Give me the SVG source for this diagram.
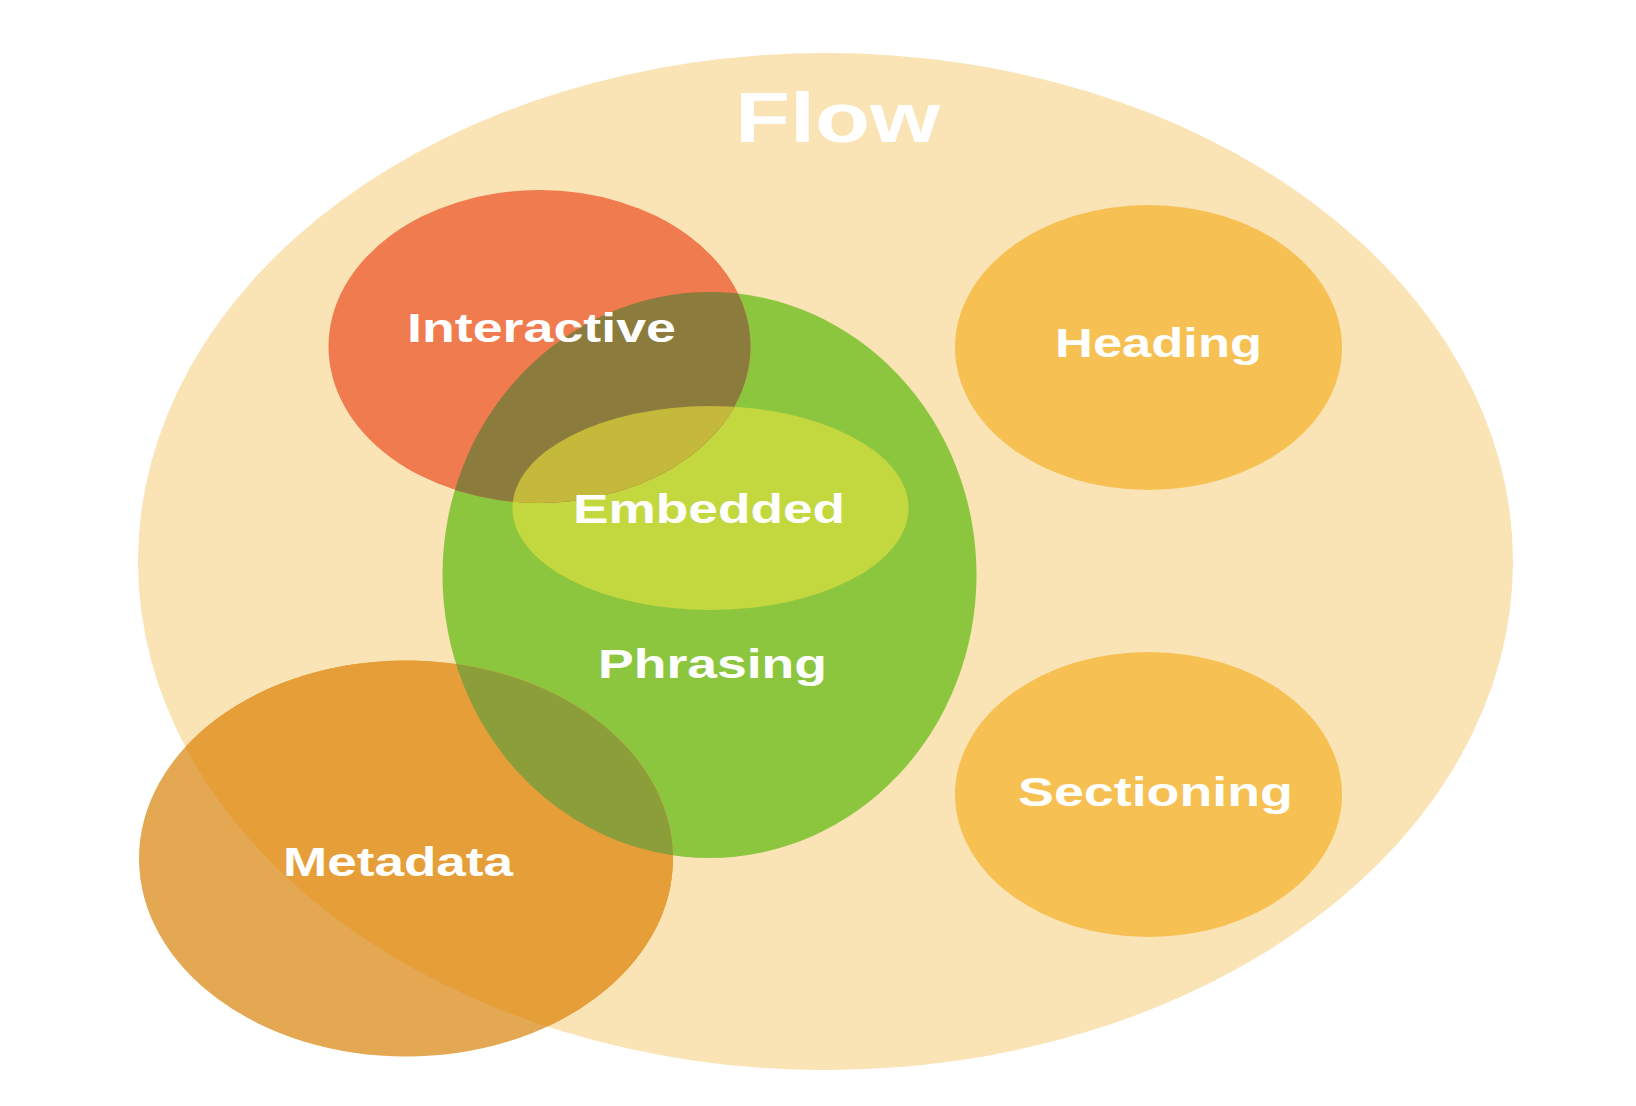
<svg xmlns="http://www.w3.org/2000/svg" width="1636" height="1106" viewBox="0 0 1636 1106">
<style>
.lbl{font-family:"Liberation Sans",Arial,sans-serif;font-weight:bold;fill:#ffffff;text-anchor:middle;font-size:41px}
.big{font-size:70px}
</style>
<defs>
<clipPath id="cFlow"><ellipse cx="825.5" cy="561.5" rx="687.5" ry="508.5"/></clipPath>
<clipPath id="cPhr"><ellipse cx="709.5" cy="575" rx="267" ry="283"/></clipPath>
<clipPath id="cEmb"><ellipse cx="710.5" cy="508" rx="198" ry="102"/></clipPath>
</defs>
<rect width="1636" height="1106" fill="#ffffff"/>
<g id="flow">
<ellipse cx="825.5" cy="561.5" rx="687.5" ry="508.5" fill="#FAE3B4"/>
<text class="lbl big" x="837.5" y="142" textLength="205" lengthAdjust="spacingAndGlyphs">Flow</text>
</g>
<g id="heading">
<ellipse cx="1148.5" cy="347.5" rx="193.5" ry="142.5" fill="#F6C152"/>
<text class="lbl" x="1158.5" y="357" textLength="207" lengthAdjust="spacingAndGlyphs">Heading</text>
</g>
<g id="sectioning">
<ellipse cx="1148.5" cy="794.5" rx="193.5" ry="142.5" fill="#F6C152"/>
<text class="lbl" x="1155.5" y="806" textLength="275" lengthAdjust="spacingAndGlyphs">Sectioning</text>
</g>
<g id="phrasing">
<ellipse cx="709.5" cy="575" rx="267" ry="283" fill="#8CC63F"/>
</g>
<g id="embedded">
<ellipse cx="710.5" cy="508" rx="198" ry="102" fill="#C2D83E"/>
</g>
<g id="interactive">
<ellipse cx="539.5" cy="346.5" rx="211" ry="156.5" fill="#F07B4E"/>
<ellipse cx="539.5" cy="346.5" rx="211" ry="156.5" fill="#8B7B3D" clip-path="url(#cPhr)"/>
<ellipse cx="539.5" cy="346.5" rx="211" ry="156.5" fill="#C4B93B" clip-path="url(#cEmb)"/>
</g>
<g id="metadata">
<ellipse cx="406" cy="858.5" rx="267" ry="198" fill="#E4A752"/>
<ellipse cx="406" cy="858.5" rx="267" ry="198" fill="#E69E38" clip-path="url(#cFlow)"/>
<ellipse cx="406" cy="858.5" rx="267" ry="198" fill="#8C9E3A" clip-path="url(#cPhr)"/>
</g>
<g id="labels">
<text class="lbl" x="541.5" y="342" textLength="269" lengthAdjust="spacingAndGlyphs">Interactive</text>
<text class="lbl" x="709" y="523" textLength="272" lengthAdjust="spacingAndGlyphs">Embedded</text>
<text class="lbl" x="712.5" y="678" textLength="229" lengthAdjust="spacingAndGlyphs">Phrasing</text>
<text class="lbl" x="398" y="876" textLength="230" lengthAdjust="spacingAndGlyphs">Metadata</text>
</g>
</svg>
